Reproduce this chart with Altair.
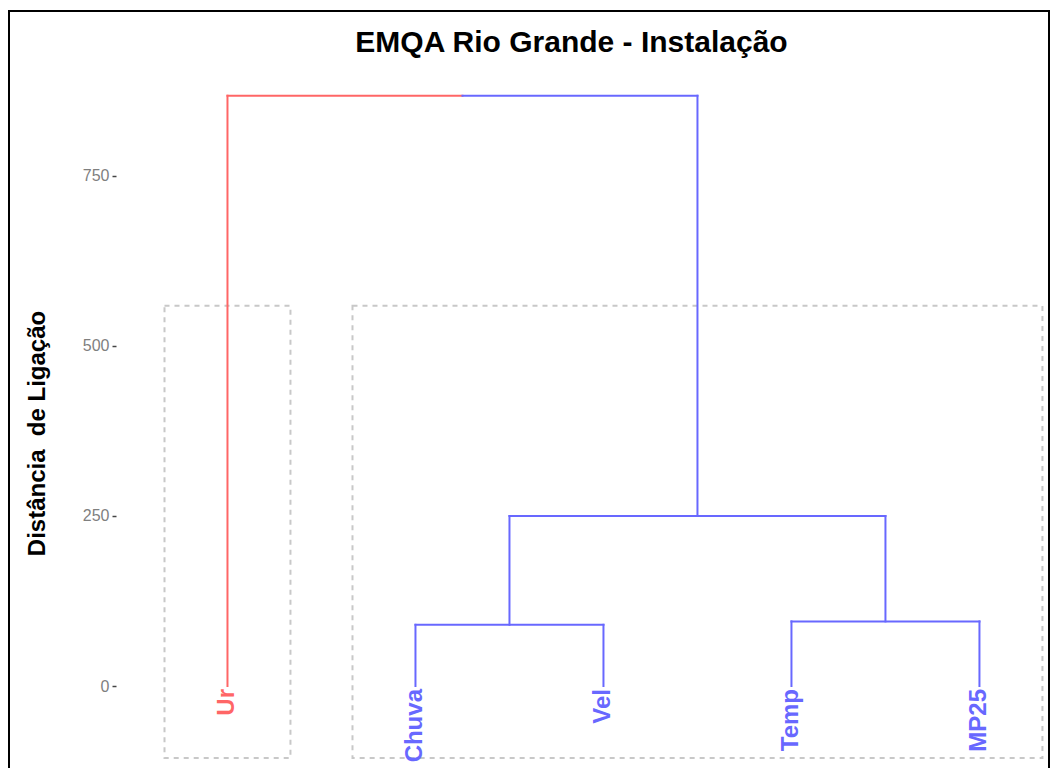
import altair as alt
import pandas as pd

# ---- data ----
leaves = ["Ur", "Chuva", "Vel", "Temp", "MP25"]
leaf_pos = [1, 2, 3, 4, 5]
leaf_group = ["g1", "g2", "g2", "g2", "g2"]

# dendrogram segments (x, x2, y, y2, cluster group)
seg_x = [1, 1, 2.25, 3.5, 2.5, 2.5, 4.5, 2, 2, 3, 4, 4, 5]
seg_x2 = [1, 2.25, 3.5, 3.5, 4.5, 2.5, 4.5, 3, 2, 3, 5, 4, 5]
seg_y = [0, 868, 868, 250, 250, 90, 95, 90, 0, 0, 95, 0, 0]
seg_y2 = [868, 868, 868, 868, 250, 250, 250, 90, 90, 90, 95, 95, 95]
seg_group = ["g1", "g1", "g2", "g2", "g2", "g2", "g2", "g2", "g2", "g2", "g2", "g2", "g2"]

# cluster rectangles
rect_x = [0.665, 1.665]
rect_x2 = [1.335, 5.335]
rect_y = [-106, -106]
rect_y2 = [559, 559]

y_ticks = [0, 250, 500, 750]

title_text = "EMQA Rio Grande - Instalação"
y_title = "Distância\u00a0 de Ligação"

segs = pd.DataFrame({"x": seg_x, "x2": seg_x2, "y": seg_y, "y2": seg_y2, "g": seg_group})
labs = pd.DataFrame({"label": leaves, "x": leaf_pos, "y": [0] * len(leaves), "g": leaf_group})
rects = pd.DataFrame({"x": rect_x, "x2": rect_x2, "y": rect_y, "y2": rect_y2})

W, H = 930, 703
xscale = alt.Scale(domain=[0.407, 5.354], nice=False, zero=False)
yscale = alt.Scale(domain=[-117.6, 916], nice=False, zero=False)

line_colors = alt.Scale(domain=["g1", "g2"], range=["#ff6666", "#6868ff"])
text_colors = alt.Scale(domain=["g1", "g2"], range=["#ff3a3a", "#3434ff"])

x_enc = alt.X("x:Q", scale=xscale, axis=None)
y_enc = alt.Y(
    "y:Q",
    scale=yscale,
    axis=alt.Axis(
        values=y_ticks,
        title=y_title,
        titleFont="Liberation Sans",
        titleFontSize=24,
        titleFontWeight="bold",
        titleColor="black",
        titleAngle=270,
        titleAlign="center",
        titleBaseline="bottom",
        titleX=-67,
        titleY=370,
        labelFont="Liberation Sans",
        labelFontSize=16,
        labelColor="#7f7f7f",
        labelPadding=3,
        tickColor="#444444",
        tickSize=4,
        tickWidth=1.5,
        domain=False,
        grid=False,
    ),
)

rect_layer = alt.Chart(rects).mark_rect(
    fill=None, fillOpacity=0, stroke="#c8c8c8", strokeWidth=2, strokeDash=[5, 5]
).encode(x=x_enc, x2="x2:Q", y=y_enc, y2="y2:Q")

seg_layer = alt.Chart(segs).mark_rule(strokeWidth=2, strokeCap="square").encode(
    x=x_enc, x2="x2:Q", y=y_enc, y2="y2:Q",
    color=alt.Color("g:N", scale=line_colors, legend=None),
)

label_layer = alt.Chart(labs).mark_text(
    angle=270, align="right", baseline="middle", font="Liberation Sans",
    fontSize=24, fontWeight="bold", yOffset=3,
).encode(
    x=x_enc, y=y_enc, text="label:N",
    color=alt.Color("g:N", scale=text_colors, legend=None),
)

title_layer = alt.Chart(pd.DataFrame({"t": [title_text]})).mark_text(
    align="center", baseline="alphabetic", font="Liberation Sans",
    fontSize=30, fontWeight="bold", color="black",
).encode(x=alt.value(455.5), y=alt.value(-11), text="t:N")

# outer frame of the figure
frame = pd.DataFrame({"k": ["left", "top", "right"]})
frame_left = alt.Chart(frame.iloc[[0]]).mark_rule(color="black", strokeWidth=2).encode(
    x=alt.value(-107), y=alt.value(-52), y2=alt.value(H + 2))
frame_top = alt.Chart(frame.iloc[[1]]).mark_rule(color="black", strokeWidth=2).encode(
    x=alt.value(-108), x2=alt.value(934), y=alt.value(-52))
frame_right = alt.Chart(frame.iloc[[2]]).mark_rule(color="black", strokeWidth=2).encode(
    x=alt.value(933), y=alt.value(-52), y2=alt.value(H + 2))

chart = alt.layer(
    rect_layer, seg_layer, label_layer, title_layer, frame_left, frame_top, frame_right
).properties(
    width=W, height=H,
    autosize=alt.AutoSizeParams(type="none"),
    padding={"left": 108, "top": 55, "right": 4, "bottom": 2},
    background="white",
).configure_view(stroke=None)

chart.save("out.html", embed_options={"renderer": "svg", "actions": False})
